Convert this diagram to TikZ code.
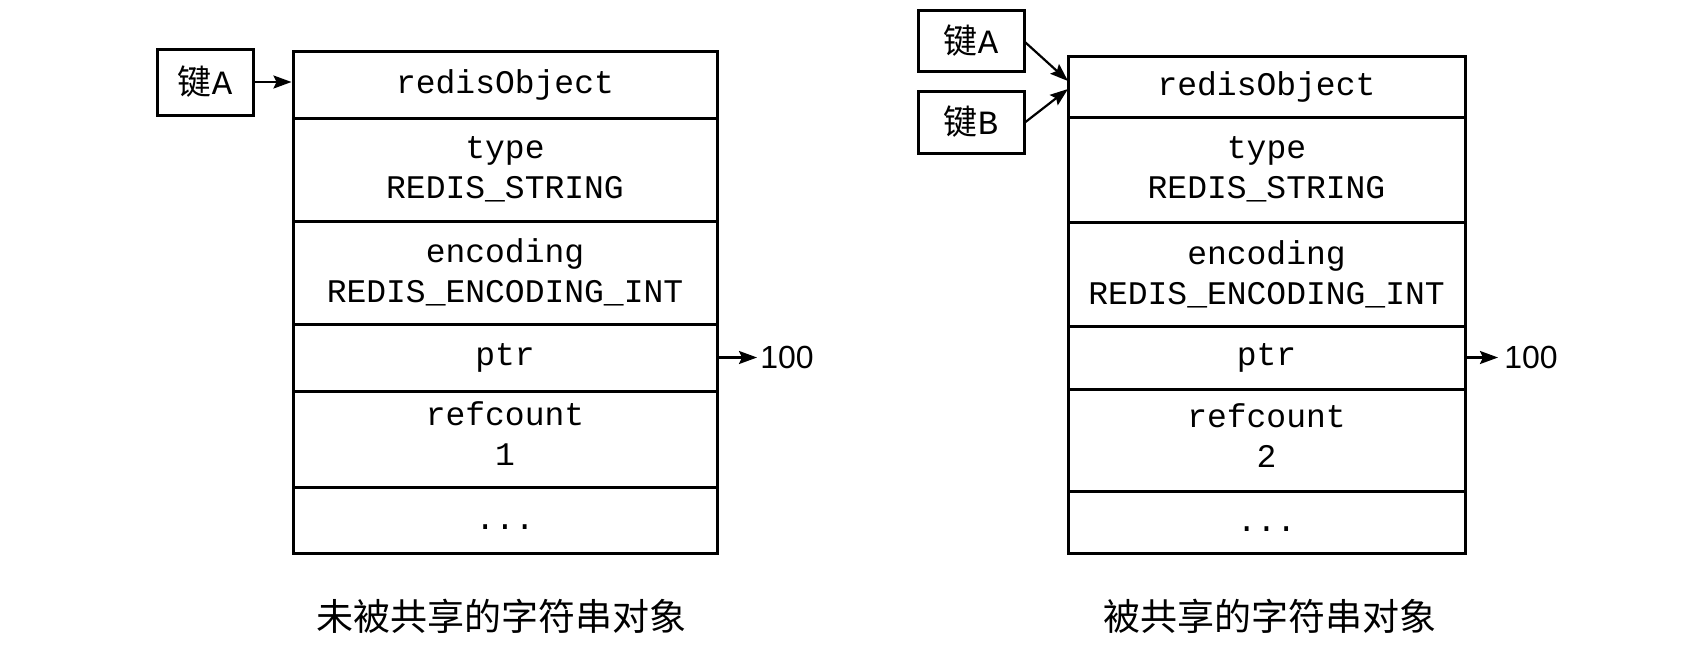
\documentclass[tikz,border=0pt]{standalone}
\usepackage{fontspec}
\setmainfont{Liberation Sans}
\setmonofont{Liberation Mono}
\newfontfamily\cjk{Noto Sans CJK SC}
\usetikzlibrary{arrows.meta}
\begin{document}
\begin{tikzpicture}[x=0.5pt,y=-0.5pt,
  cell/.style={draw, line width=1.5pt, inner sep=0pt, align=center,
    font=\fontsize{16.5}{20}\selectfont\ttfamily},
  lcell/.style={cell, minimum width=212pt},
  rcell/.style={cell, minimum width=198.5pt},
  keybox/.style={draw, line width=1.5pt, inner sep=0pt,
    font=\fontsize{17}{20}\selectfont\ttfamily},
  arr/.style={line width=1.1pt, -{Stealth[length=9pt,width=6.5pt,inset=1.5pt]}},
  captext/.style={font=\fontsize{18.5}{22}\selectfont\cjk},
  num/.style={anchor=west, inner sep=0pt, font=\fontsize{16}{18}\selectfont}]
\useasboundingbox (0,0) rectangle (1705,670);
\fill[white] (0,0) rectangle (1705,670);

% ---------- left stack ----------
\node[lcell, minimum height=33.5pt] (L1) at (505,84.5) {redisObject};
\node[lcell, minimum height=51.5pt] (L2) at (505,169.5) {type\\REDIS\_STRING};
\node[lcell, minimum height=51.5pt] (L3) at (505,272.5) {encoding\\REDIS\_ENCODING\_INT};
\node[lcell, minimum height=33.5pt] (L4) at (505,357.5) {ptr};
\node[lcell, minimum height=48pt] (L5) at (505,439) {refcount\\1\rule[-5pt]{0pt}{0pt}};
\node[lcell, minimum height=33pt] (L6) at (505,520) {\raisebox{-9pt}{...}};

\node[keybox, minimum width=48pt, minimum height=33pt] (LA) at (205,82) {{\cjk 键}A};
\draw[arr] (LA.east) -- (LA.east -| L1.west);

\coordinate (lp) at (757,357.5);
\draw[arr] (L4.east) -- (lp);
\node[num] (ln) at (760,357.5) {100};

\node[captext] (lc) at (501,616) {未被共享的字符串对象};

% ---------- right stack ----------
\node[rcell, minimum height=30.5pt] (R1) at (1266.5,86.5) {redisObject};
\node[rcell, minimum height=52.5pt] (R2) at (1266.5,169.5) {type\\REDIS\_STRING};
\node[rcell, minimum height=52pt] (R3) at (1266.5,274) {encoding\\REDIS\_ENCODING\_INT};
\node[rcell, minimum height=31.5pt] (R4) at (1266.5,357.5) {ptr};
\node[rcell, minimum height=51pt] (R5) at (1266.5,440) {refcount\\2\rule[-4pt]{0pt}{0pt}};
\node[rcell, minimum height=31pt] (R6) at (1266.5,522) {\raisebox{-9pt}{...}};

\node[keybox, minimum width=53pt, minimum height=30.5pt] (RA) at (971,40.5) {{\cjk 键}A};
\node[keybox, minimum width=53pt, minimum height=31pt] (RB) at (971,122) {{\cjk 键}B};
\coordinate (ra) at (1068,81);
\coordinate (rb) at (1068,89);
\draw[arr] ([yshift=-1pt]RA.east) -- (ra);
\draw[arr] (RB.east) -- (rb);

\coordinate (rp) at (1498,357.5);
\draw[arr] (R4.east) -- (rp);
\node[num] (rn) at (1504,357.5) {100};

\node[captext] (rc) at (1270,616) {被共享的字符串对象};
\end{tikzpicture}
\end{document}
